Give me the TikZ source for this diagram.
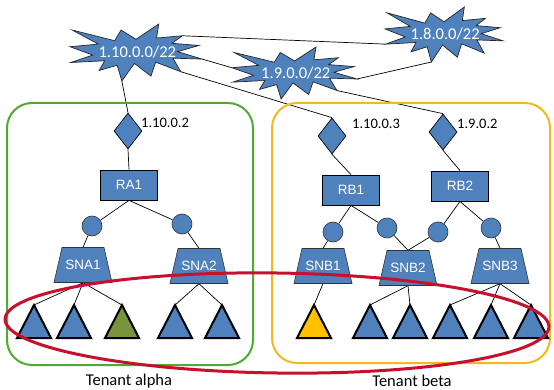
\documentclass[tikz,border=0pt]{standalone}
\usepackage{fontspec}
\setmainfont{Carlito}
\newfontfamily\boxfont{Liberation Sans}
\usetikzlibrary{shapes.geometric}

\definecolor{nodeblue}{RGB}{79,129,189}
\definecolor{leafgreen}{RGB}{119,147,60}
\definecolor{leafyellow}{RGB}{255,192,0}
\definecolor{alphagreen}{RGB}{80,170,50}
\definecolor{betaorange}{RGB}{245,183,30}
\definecolor{ringred}{RGB}{200,16,46}

\pgfdeclarelayer{back}
\pgfsetlayers{back,main}

\tikzset{
  link/.style={draw=black, line width=0.7pt},
  burst/.style={fill=nodeblue, draw=black!85, line width=0.7pt},
  bursttext/.style={text=white, font=\fontsize{16.5}{16.5}\selectfont, inner sep=0pt},
  gate/.style={diamond, fill=nodeblue, draw=black, line width=0.7pt,
    minimum width=28pt, minimum height=36pt, inner sep=0pt},
  router/.style={rectangle, fill=nodeblue, draw=black, line width=0.8pt,
    minimum width=57pt, minimum height=30pt, inner sep=0pt, text=white,
    font=\boxfont\fontsize{13.5}{13.5}\selectfont},
  port/.style={circle, fill=nodeblue, draw=black!80, line width=0.6pt,
    minimum size=20pt, inner sep=0pt},
  subnet/.style={rectangle, minimum width=58pt, minimum height=35pt,
    inner sep=0pt, text=white, font=\boxfont\fontsize{13.5}{13.5}\selectfont},
  trapfill/.style={fill=nodeblue, draw=black!80, line width=0.6pt},
  leafshape/.style={draw=black, line width=2pt},
  iplabel/.style={font=\fontsize{14.5}{14.5}\selectfont, inner sep=0pt, anchor=west},
  tenant/.style={rounded corners=25pt, line width=2pt},
  caption/.style={font=\fontsize{16.5}{16.5}\selectfont, inner sep=0pt},
  ring/.style={draw=ringred, line width=3pt},
}

% explosion-shaped address block: name, left, top, x unit, y unit, label
\newcommand\burst[6]{%
  \begin{scope}[shift={(#2,#3)}, x=#4, y=#5]
    \filldraw[burst]
      (50,26.85) coordinate (#1-1) -- (67.23,0) coordinate (#1-2)
      -- (65.53,24.65) coordinate (#1-3) -- (85.09,20.63) coordinate (#1-4)
      -- (77.32,33.87) coordinate (#1-5) -- (97.67,37.67) coordinate (#1-6)
      -- (81.51,48.50) coordinate (#1-7) -- (100,61.53) coordinate (#1-8)
      -- (77.95,59.92) coordinate (#1-9) -- (84.00,83.77) coordinate (#1-10)
      -- (64.91,66.93) coordinate (#1-11) -- (61.33,91.38) coordinate (#1-12)
      -- (48.76,69.14) coordinate (#1-13) -- (39.28,100) coordinate (#1-14)
      -- (35.72,72.35) coordinate (#1-15) -- (22.05,81.56) coordinate (#1-16)
      -- (26.24,64.52) coordinate (#1-17) -- (0.63,67.53) coordinate (#1-18)
      -- (17.23,54.51) coordinate (#1-19) -- (0,39.88) coordinate (#1-20)
      -- (21.42,35.26) coordinate (#1-21) -- (1.71,10.63) coordinate (#1-22)
      -- (33.85,29.26) coordinate (#1-23) -- (38.67,10.63) coordinate (#1-24)
      -- cycle;
    \node[bursttext] (#1) at (51,50) {#6};
  \end{scope}}

% trapezoid subnet: name, centre, label
\newcommand\subnetbox[3]{%
  \filldraw[trapfill] (#2) ++(-29,17.5) -- ++(58,0) -- ++(-8,-35) -- ++(-42,0) -- cycle;
  \node[subnet] (#1) at (#2) {#3};}

% leaf triangle: apex name, x of apex, fill colour
\newcommand\leaf[3]{%
  \filldraw[leafshape, fill=#3] (#2,305) coordinate (#1) -- ++(17,33) -- ++(-34,0) -- cycle;}

\begin{document}
\begin{tikzpicture}[x=1pt, y=-1pt]
  \useasboundingbox (0,0) rectangle (554,390);

  % tenant frames
  \draw[tenant, alphagreen] (7,103) rectangle (253,365);
  \draw[tenant, betaorange] (272,103) rectangle (550,363);

  % address blocks
  \burst{S10}{70}{24}{1.32pt}{-0.57pt}{1.10.0.0/22}
  \burst{S9}{232}{47}{1.25pt}{-0.52pt}{1.9.0.0/22}
  \burst{S8}{385}{7}{1.18pt}{-0.55pt}{1.8.0.0/22}

  % gateways and their addresses
  \node[gate] (gA)  at (128,131) {};
  \node[gate] (gB1) at (332,136) {};
  \node[gate] (gB2) at (443,132) {};
  \node[iplabel] (ipA)  at (141,123) {1.10.0.2};
  \node[iplabel] (ipB1) at (352,124) {1.10.0.3};
  \node[iplabel] (ipB2) at (457,124) {1.9.0.2};

  % routers
  \node[router] (RA1) at (129,185) {RA1};
  \node[router] (RB1) at (351,190) {RB1};
  \node[router] (RB2) at (460,186) {RB2};

  % router ports
  \node[port] (pA1) at (92,226) {};
  \node[port] (pA2) at (182,224) {};
  \node[port] (pB1) at (333,232) {};
  \node[port] (pB2) at (387,228) {};
  \node[port] (pB3) at (438,232) {};
  \node[port] (pB4) at (491,228) {};

  % subnets
  \subnetbox{SNA1}{83,265}{SNA1}
  \subnetbox{SNA2}{199,266}{SNA2}
  \subnetbox{SNB1}{323,266}{SNB1}
  \subnetbox{SNB2}{408,268}{SNB2}
  \subnetbox{SNB3}{500,266}{SNB3}

  % hosts
  \leaf{a1}{34}{nodeblue}
  \leaf{a2}{74}{nodeblue}
  \leaf{a3}{122}{leafgreen}
  \leaf{a4}{175}{nodeblue}
  \leaf{a5}{222}{nodeblue}
  \leaf{b1}{314}{leafyellow}
  \leaf{b2}{370}{nodeblue}
  \leaf{b3}{410}{nodeblue}
  \leaf{b4}{450}{nodeblue}
  \leaf{b5}{491}{nodeblue}
  \leaf{b6}{531}{nodeblue}

  % tenant names
  \node[caption] (tA) at (129,381) {Tenant alpha};
  \node[caption] (tB) at (412,381) {Tenant beta};

  % connectors, kept behind the shapes
  \begin{pgfonlayer}{back}
    \draw[link] (S10-4) -- (S8-18);
    \draw[link] (S10-8) -- (S9-20);
    \draw[link] (S9-8) -- (S8-14);
    \draw[link] (S10-14) -- (gA.north);
    \draw[link] (S10-10) -- (gB1.north);
    \draw[link] (S9-10) -- (gB2.north);
    \draw[link] (gA.south) -- (RA1.north);
    \draw[link] (gB1.south) -- (RB1.north);
    \draw[link] (gB2.south) -- (RB2.north);
    \draw[link] (RA1.south) -- (pA1);
    \draw[link] (RA1.south) -- (pA2);
    \draw[link] (RB1.south) -- (pB1);
    \draw[link] (RB1.south) -- (pB2);
    \draw[link] (RB2.south) -- (pB3);
    \draw[link] (RB2.south) -- (pB4);
    \draw[link] (pA1) -- (SNA1.north);
    \draw[link] (pA2) -- (SNA2.north);
    \draw[link] (pB1) -- (SNB1.north);
    \draw[link] (pB2) -- (SNB2.north);
    \draw[link] (pB3) -- (SNB2.north);
    \draw[link] (pB4) -- (SNB3.north);
    \foreach \h in {a1,a2,a3} \draw[link] (SNA1.south) -- (\h);
    \foreach \h in {a4,a5} \draw[link] (SNA2.south) -- (\h);
    \draw[link] (SNB1.south) -- (b1);
    \foreach \h in {b2,b3} \draw[link] (SNB2.south) -- (\h);
    \foreach \h in {b4,b5,b6} \draw[link] (SNB3.south) -- (\h);
  \end{pgfonlayer}

  % ring around the hosts
  \draw[ring] (277,323) circle [x radius=272, y radius=50, rotate=-0.8];
\end{tikzpicture}
\end{document}
